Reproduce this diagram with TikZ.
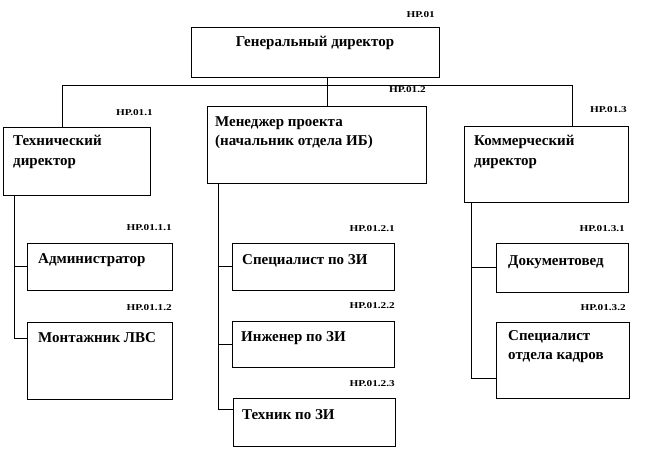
\documentclass[tikz,border=0pt]{standalone}
\usepackage{fontspec}
\setmainfont{Liberation Serif}
\newfontfamily\lblfont[FakeStretch=1.25]{Liberation Serif}
\begin{document}
\begin{tikzpicture}[x=1pt,y=-1pt,
  box/.style={draw=black, line width=0.9pt, inner sep=0pt, outer sep=0pt, rectangle},
  txt/.style={anchor=base west, inner sep=0pt, font=\fontsize{15}{18}\selectfont\bfseries},
  lbl/.style={anchor=base east, inner sep=0pt, font=\lblfont\fontsize{9}{10}\selectfont\bfseries},
  conn/.style={draw=black, line width=0.8pt}]
\useasboundingbox (0,0) rectangle (650,449);
\newcommand\obox[5]{\node[box, minimum width={(#4-#2)*1pt}, minimum height={(#5-#3)*1pt}] (#1) at ({(#2+#4)/2},{(#3+#5)/2}) {};}
% boxes
\obox{gen}{191}{27}{439}{77}
\obox{tech}{3}{127}{150}{195}
\obox{mgr}{207}{106}{426}{183}
\obox{com}{464}{126}{628}{202}
\obox{adm}{27}{243}{172}{290}
\obox{mon}{27}{322}{172}{399}
\obox{szi}{232}{243}{394}{290}
\obox{izi}{232}{321}{394}{367}
\obox{tzi}{233}{398}{395}{446}
\obox{doc}{496}{243}{628}{292}
\obox{sok}{496}{322}{629}{398}
% texts
\node[txt, anchor=base] (tgen) at (315,47) {Генеральный директор};
\node[txt] (ttech1) at (13,146) {Технический};
\node[txt] (ttech2) at (13,166) {директор};
\node[txt] (tmgr1) at (215,127) {Менеджер проекта};
\node[txt] (tmgr2) at (215,146) {(начальник отдела ИБ)};
\node[txt] (tcom1) at (474,146) {Коммерческий};
\node[txt] (tcom2) at (474,166) {директор};
\node[txt] (tadm) at (38,263) {Администратор};
\node[txt] (tmon) at (38,342) {Монтажник ЛВС};
\node[txt] (tszi) at (242,264) {Специалист по ЗИ};
\node[txt] (tizi) at (241,341) {Инженер по ЗИ};
\node[txt] (ttzi) at (242,419) {Техник по ЗИ};
\node[txt] (tdoc) at (508,265) {Документовед};
\node[txt] (tsok1) at (508,340) {Специалист};
\node[txt] (tsok2) at (508,359) {отдела кадров};
% codes
\node[lbl] (lgen) at (435,18) {НР.01};
\node[lbl] (ltech) at (153,116) {НР.01.1};
\node[lbl] (lmgr) at (426,93) {НР.01.2};
\node[lbl] (lcom) at (627,113) {НР.01.3};
\node[lbl] (ladm) at (172,230) {НР.01.1.1};
\node[lbl] (lmon) at (172,310) {НР.01.1.2};
\node[lbl] (lszi) at (395,231) {НР.01.2.1};
\node[lbl] (lizi) at (395,308) {НР.01.2.2};
\node[lbl] (ltzi) at (395,386) {НР.01.2.3};
\node[lbl] (ldoc) at (625,231) {НР.01.3.1};
\node[lbl] (lsok) at (626,310) {НР.01.3.2};
% connectors
\coordinate (busL) at (62,85);
\coordinate (busR) at (572,85);
\coordinate (busM) at (327,85);
\coordinate (tl) at (14,0);
\coordinate (ml) at (218,0);
\coordinate (cl) at (471,0);
\draw[conn] (busL) -- (busR);
\draw[conn] (busL) -- (busL |- tech.north);
\draw[conn] (busR) -- (busR |- com.north);
\draw[conn] (gen.south -| busM) -- (mgr.north -| busM);
\draw[conn] (tech.south -| tl) |- (adm.west);
\draw[conn] (tech.south -| tl) |- ([yshift=-16pt]mon.north west);
\draw[conn] (mgr.south -| ml) |- (szi.west);
\draw[conn] (mgr.south -| ml) |- (izi.west);
\draw[conn] (mgr.south -| ml) |- ([yshift=-11pt]tzi.north west);
\draw[conn] (com.south -| cl) |- (doc.west);
\draw[conn] (com.south -| cl) |- ([yshift=-56pt]sok.north west);
\end{tikzpicture}
\end{document}
